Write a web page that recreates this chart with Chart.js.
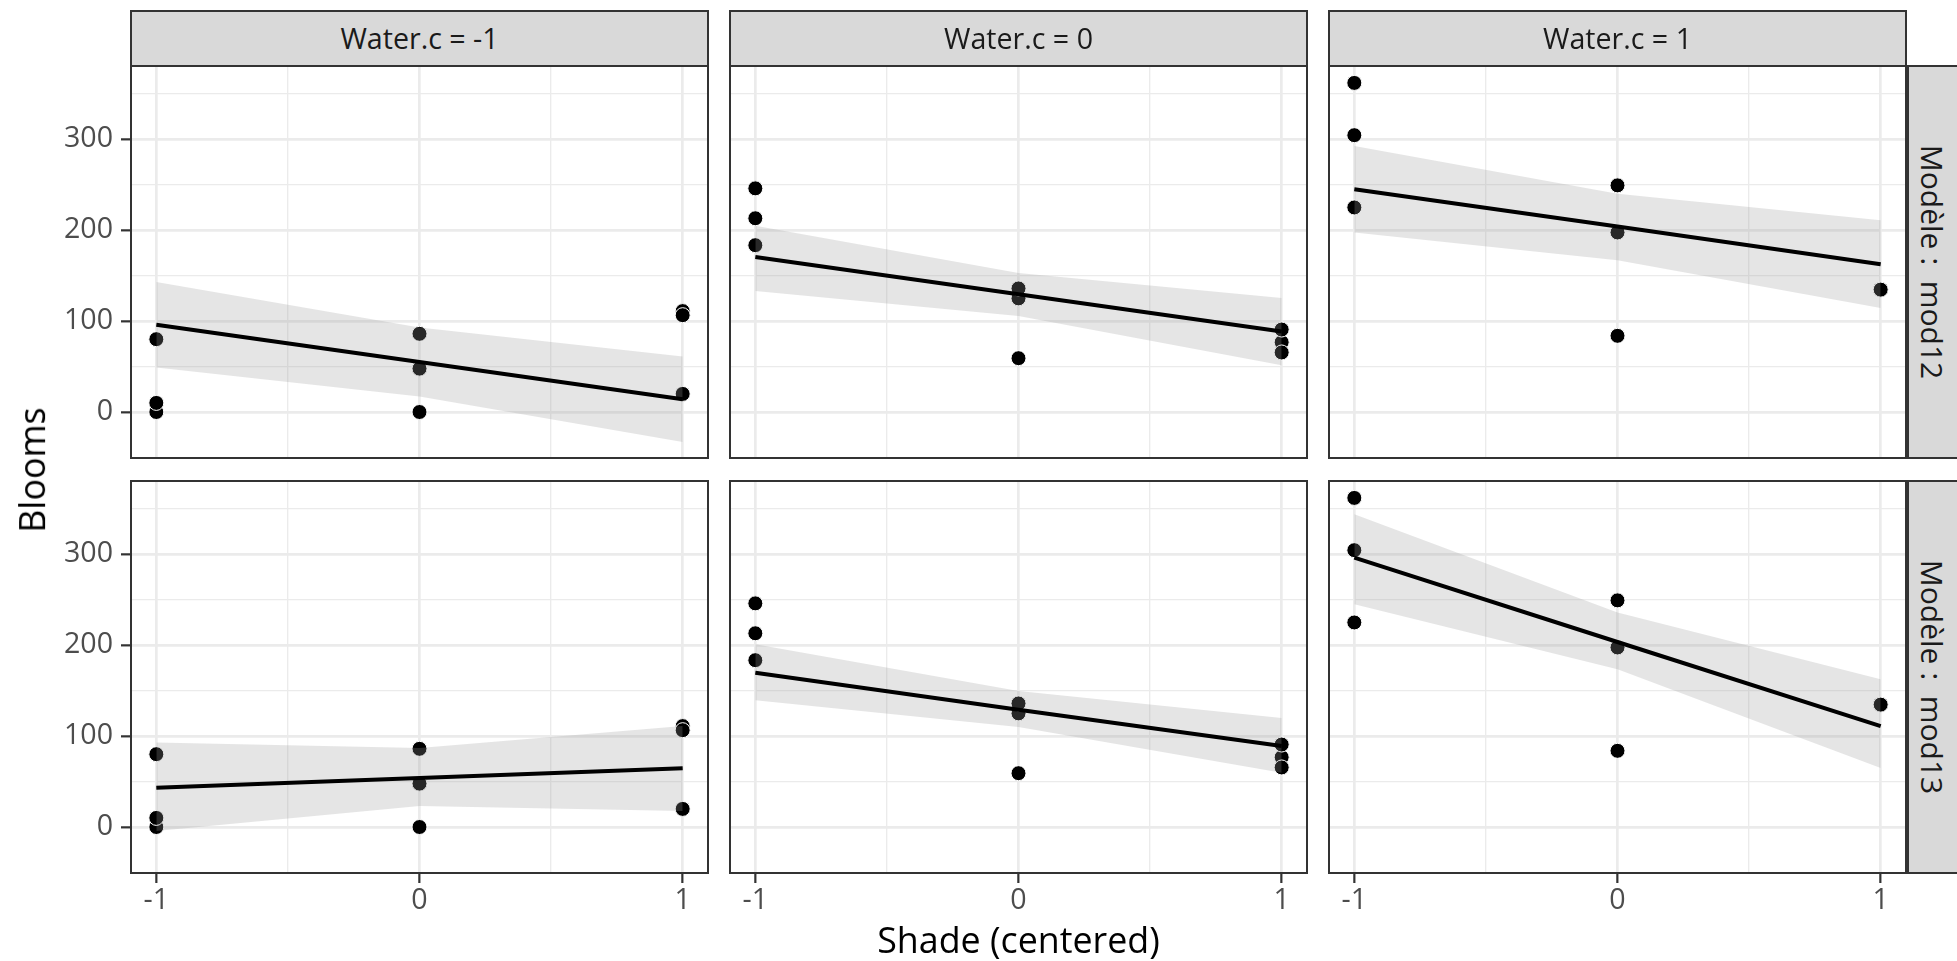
<!DOCTYPE html>
<html>
<head>
<meta charset="utf-8">
<title>Blooms vs Shade</title>
<script src="https://cdn.jsdelivr.net/npm/chart.js@4.4.1/dist/chart.umd.min.js"></script>
<style>
  html, body { margin: 0; padding: 0; background: #fff; }
  #fig { position: relative; width: 1957px; height: 961px; overflow: hidden; background: #fff;
         font-family: 'Open Sans', sans-serif; }
  #fig canvas { position: absolute; }
  .strip { position: absolute; box-sizing: border-box; background: #d9d9d9; border: 2px solid #333;
           color: #1a1a1a; font-size: 28.6px; line-height: 1; display: flex; align-items: center;
           justify-content: center; white-space: nowrap; }
  .title { position: absolute; font-size: 35.8px; line-height: 1; color: #000; white-space: nowrap;
           transform: translate(-50%, -50%); }
  .rot { position: absolute; white-space: pre; line-height: 1; color: #1a1a1a;
         transform: translate(-50%, -50%) rotate(90deg); }
</style>
</head>
<body>
<div id="fig"></div>
<script>
// Facet labels
const waterLabels = ['Water.c = -1', 'Water.c = 0', 'Water.c = 1'];
const modelLabels = ['Modèle :  mod12', 'Modèle :  mod13'];

// Axis ticks and ranges
const shadeTicks = [-1, 0, 1];
const shadeMinor = [-0.5, 0.5];
const bloomTicks = [0, 100, 200, 300];
const bloomMinor = [50, 150, 250, 350];
const shadeRange = [-1.1, 1.1];
const bloomRange = [-51.7, 381.7];

// Observed blooms (Shade.c, Blooms), one list per water level
const shadeObs = [-1, -1, -1, 0, 0, 0, 1, 1, 1];
const bloomsWaterLow = [0, 80.1, 10.0, 0, 86.0, 47.7, 111.0, 19.9, 106.5];
const bloomsWaterMid = [183.5, 213.1, 246.0, 59.2, 125.0, 135.9, 76.8, 90.7, 65.5];
const shadeObsHigh = [-1, -1, -1, 0, 0, 0, 1, 1];
const bloomsWaterHigh = [225.0, 362.0, 304.5, 83.8, 197.5, 249.3, 135.0, 134.6];

// Model predictions at Shade.c = -1, 0, 1 (rows: Water.c = -1, 0, 1)
const fitMod12   = [[96, 55, 14], [170.5, 129.5, 88.5], [245, 204, 162.5]];
const upperMod12 = [[143, 93, 61], [205, 153, 125.5], [292.5, 240, 211]];
const lowerMod12 = [[49, 17, -33], [133, 105.5, 51.5], [197.5, 167, 114.5]];

const fitMod13   = [[43.3, 54, 64.6], [169.7, 129, 89.1], [296.3, 203.5, 111]];
const upperMod13 = [[93, 87, 111], [201, 149.6, 120], [344, 236, 162.5]];
const lowerMod13 = [[-4.5, 23, 17.6], [139.4, 110, 59.7], [245, 173.5, 65]];

// ---- layout (page pixels) ----
const colLeft = [130, 729, 1328];
const rowTop = [65, 480];
const PANEL_W = 579, PANEL_H = 394;
const GRID = '#ebebeb';

const fig = document.getElementById('fig');

const obsByWater = [
  { x: shadeObs, y: bloomsWaterLow },
  { x: shadeObs, y: bloomsWaterMid },
  { x: shadeObsHigh, y: bloomsWaterHigh }
];
const models = [
  { fit: fitMod12, upper: upperMod12, lower: lowerMod12 },
  { fit: fitMod13, upper: upperMod13, lower: lowerMod13 }
];

const toPts = (xs, ys) => xs.map((x, i) => ({ x, y: ys[i] }));
const isIn = (arr, v) => arr.some(a => Math.abs(a - v) < 1e-9);

const panelFrame = {
  id: 'panelFrame',
  afterDraw(chart) {
    const { ctx, chartArea: a } = chart;
    ctx.save();
    ctx.strokeStyle = '#333333';
    ctx.lineWidth = 2;
    ctx.strokeRect(a.left + 1, a.top + 1, a.width - 2, a.height - 2);
    ctx.restore();
  }
};

Chart.defaults.font.family = "'Open Sans', sans-serif";

function gridWidth(ctx, majors) {
  if (!ctx.tick) return 0;
  const v = ctx.tick.value;
  if (majors === bloomTicks && v < bloomRange[0] + 2) return 0;
  return isIn(majors, v) ? 2.7 : 1.35;
}
function tickCol(ctx, majors) {
  if (!ctx.tick) return 'rgba(0,0,0,0)';
  return isIn(majors, ctx.tick.value) ? '#333333' : 'rgba(0,0,0,0)';
}
function noPadding(s) {
  s.paddingTop = 0; s.paddingBottom = 0; s.paddingLeft = 0; s.paddingRight = 0;
}

function makePanel(r, c) {
  const axisW = c === 0 ? 80 : 0;
  const axisH = r === 1 ? 60 : 0;
  const canvas = document.createElement('canvas');
  canvas.width = PANEL_W + axisW;
  canvas.height = PANEL_H + axisH;
  canvas.style.left = (colLeft[c] - axisW) + 'px';
  canvas.style.top = rowTop[r] + 'px';
  canvas.style.width = canvas.width + 'px';
  canvas.style.height = canvas.height + 'px';
  fig.appendChild(canvas);

  const m = models[r];
  const obs = obsByWater[c];

  new Chart(canvas, {
    type: 'line',
    data: {
      datasets: [
        { data: toPts(shadeTicks, m.fit[c]), borderColor: '#000', borderWidth: 4,
          pointRadius: 0, fill: false, order: 0 },
        { data: toPts(shadeTicks, m.upper[c]), borderWidth: 0, pointRadius: 0,
          fill: '+1', backgroundColor: 'rgba(153,153,153,0.26)', order: 1 },
        { data: toPts(shadeTicks, m.lower[c]), borderWidth: 0, pointRadius: 0,
          fill: false, order: 1 },
        { data: toPts(obs.x, obs.y), showLine: false, pointRadius: 7.5,
          pointBackgroundColor: '#000', pointBorderColor: '#fff', pointBorderWidth: 1,
          order: 2 }
      ]
    },
    options: {
      responsive: false,
      animation: false,
      devicePixelRatio: 1,
      layout: { padding: 0, autoPadding: false },
      plugins: { legend: { display: false }, tooltip: { enabled: false } },
      events: [],
      scales: {
        x: {
          type: 'linear',
          min: shadeRange[0], max: shadeRange[1],
          afterBuildTicks: s => {
            s.ticks = [...shadeTicks, ...shadeMinor].sort((a, b) => a - b).map(v => ({ value: v }));
          },
          afterFit: s => { s.height = axisH; noPadding(s); },
          border: { display: false },
          grid: {
            color: GRID,
            lineWidth: ctx => gridWidth(ctx, shadeTicks),
            drawTicks: r === 1,
            tickLength: 9,
            tickWidth: 2.2,
            tickColor: ctx => tickCol(ctx, shadeTicks)
          },
          ticks: {
            display: r === 1,
            autoSkip: false,
            maxRotation: 0,
            padding: 1,
            color: '#4d4d4d',
            font: { size: 28.6 },
            callback: v => isIn(shadeTicks, v) ? String(v) : ''
          }
        },
        y: {
          type: 'linear',
          min: bloomRange[0], max: bloomRange[1],
          afterBuildTicks: s => {
            s.ticks = [...bloomTicks, ...bloomMinor].sort((a, b) => a - b).map(v => ({ value: v }));
          },
          afterFit: s => { s.width = axisW; noPadding(s); },
          border: { display: false },
          grid: {
            color: GRID,
            lineWidth: ctx => gridWidth(ctx, bloomTicks),
            drawTicks: c === 0,
            tickLength: 9,
            tickWidth: 2.2,
            tickColor: ctx => tickCol(ctx, bloomTicks)
          },
          ticks: {
            display: c === 0,
            autoSkip: false,
            padding: 8,
            color: '#4d4d4d',
            font: { size: 28.6 },
            callback: v => isIn(bloomTicks, v) ? String(v) : ''
          }
        }
      }
    },
    plugins: [panelFrame]
  });
}

for (let r = 0; r < 2; r++) for (let c = 0; c < 3; c++) makePanel(r, c);

// Column strips (Water.c)
waterLabels.forEach((txt, c) => {
  const d = document.createElement('div');
  d.className = 'strip';
  d.style.left = colLeft[c] + 'px';
  d.style.top = '10px';
  d.style.width = PANEL_W + 'px';
  d.style.height = (rowTop[0] - 10 + 2) + 'px';
  d.textContent = txt;
  fig.appendChild(d);
});

// Row strips (model)
modelLabels.forEach((txt, r) => {
  const d = document.createElement('div');
  d.className = 'strip';
  d.style.left = (colLeft[2] + PANEL_W) + 'px';
  d.style.top = rowTop[r] + 'px';
  d.style.width = '60px';
  d.style.height = PANEL_H + 'px';
  fig.appendChild(d);
  const t = document.createElement('div');
  t.className = 'rot';
  t.style.left = '1932px';
  t.style.top = (rowTop[r] + PANEL_H / 2) + 'px';
  t.style.fontSize = '30px';
  t.textContent = txt;
  fig.appendChild(t);
});

// Axis titles
const xt = document.createElement('div');
xt.className = 'title';
xt.style.left = ((colLeft[0] + colLeft[2] + PANEL_W) / 2) + 'px';
xt.style.top = '940px';
xt.textContent = 'Shade (centered)';
fig.appendChild(xt);

const yt = document.createElement('div');
yt.className = 'title';
yt.style.left = '32px';
yt.style.top = ((rowTop[0] + rowTop[1] + PANEL_H) / 2) + 'px';
yt.style.transform = 'translate(-50%, -50%) rotate(-90deg)';
yt.textContent = 'Blooms';
fig.appendChild(yt);
</script>
</body>
</html>
